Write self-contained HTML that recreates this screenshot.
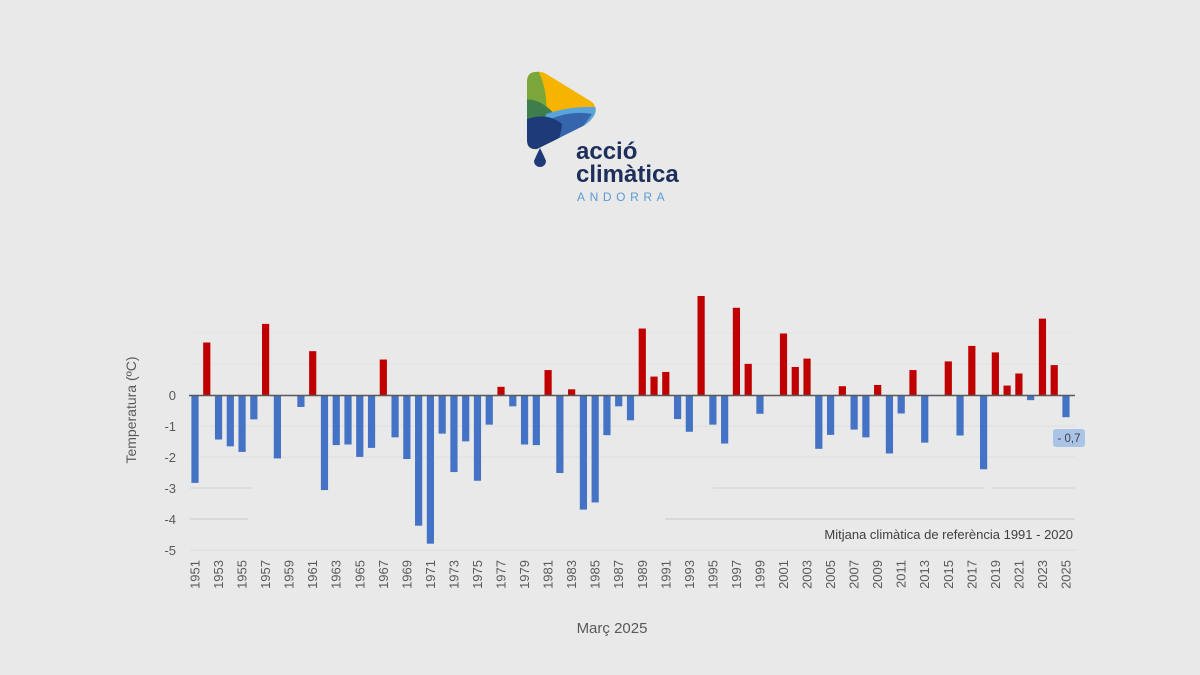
<!DOCTYPE html>
<html><head><meta charset="utf-8"><style>
html,body{margin:0;padding:0;background:#e9e9e9;}
svg{display:block;font-family:"Liberation Sans",sans-serif;}
</style></head><body>
<svg id="s" width="1200" height="675" viewBox="0 0 1200 675" xmlns="http://www.w3.org/2000/svg">
<defs>
<clipPath id="tri"><path d="M536,72 Q527,72 527,82 L527,140 Q527,150 537,149 L585,125 Q602,112 592,102 L548,75 Q542,71 536,72Z"/></clipPath>
</defs>
<rect width="1200" height="675" fill="#e9e9e9"/>
<g clip-path="url(#tri)">
<rect x="520" y="65" width="90" height="90" fill="#f6b400"/>
<path d="M520,65 L538,70 Q548,92 546,112 L520,122Z" fill="#7aa63a"/>
<path d="M520,100 Q540,96 556,116 L520,140Z" fill="#3e7d4c"/>
<path d="M546,114 Q575,104 610,108 L610,155 L540,155Z" fill="#5aa4dc"/>
<path d="M548,120 Q570,110 592,114 Q580,132 560,150 L548,150Z" fill="#3566ad"/>
<path d="M520,122 Q545,110 562,124 Q560,150 540,155 L520,155Z" fill="#1e3a78"/>
</g>
<path d="M540,148 Q536,156 534,161 A6,6 0 1 0 546,161 Q544,156 540,148Z" fill="#1e3a78"/>
<text x="576" y="159" font-size="24" font-weight="bold" fill="#1f2f5c">acció</text>
<text x="576" y="182" font-size="24" font-weight="bold" fill="#1f2f5c">climàtica</text>
<text x="577" y="201" font-size="12" fill="#5b9bd5" letter-spacing="4.6">ANDORRA</text>
<g id="grid" stroke="#d2d2d2" stroke-width="1">
<line x1="665" y1="519" x2="1075" y2="519" stroke="#c8c8c8"/>
<line x1="713" y1="488" x2="985" y2="488"/>
<line x1="992" y1="488" x2="1075" y2="488"/>
<line x1="190" y1="519" x2="248" y2="519" stroke="#c8c8c8"/>
<line x1="190" y1="488" x2="253" y2="488"/>
<line x1="190" y1="550" x2="1075" y2="550" stroke="#dcdcdc"/>
<line x1="190" y1="457" x2="1075" y2="457" stroke="#dedede"/>
<line x1="190" y1="426" x2="1075" y2="426" stroke="#e0e0e0"/>
<line x1="190" y1="364" x2="1075" y2="364" stroke="#e2e2e2"/>
<line x1="190" y1="333" x2="1075" y2="333" stroke="#e3e3e3"/>
</g>
<g id="bars"></g>
<line x1="189" y1="395.5" x2="1075" y2="395.5" stroke="#595959" stroke-width="1.5"/>
<g font-size="13" fill="#595959" text-anchor="end">
<text x="176" y="400">0</text>
<text x="176" y="431">-1</text>
<text x="176" y="462">-2</text>
<text x="176" y="493">-3</text>
<text x="176" y="524">-4</text>
<text x="176" y="555">-5</text>
</g>
<text transform="translate(136,410) rotate(-90)" text-anchor="middle" font-size="14" fill="#595959">Temperatura (ºC)</text>
<g id="years" font-size="13" fill="#595959"></g>
<text x="1073" y="539" text-anchor="end" font-size="13" fill="#404040">Mitjana climàtica de referència 1991 - 2020</text>
<rect x="1053" y="429" width="32" height="18" rx="3" fill="#a9c4e6"/>
<text x="1069" y="442" text-anchor="middle" font-size="11.5" fill="#404040">- 0,7</text>
<text x="612" y="633" text-anchor="middle" font-size="15" fill="#595959">Març 2025</text>
</svg>
<script>
var v=[-2.82,1.71,-1.42,-1.64,-1.82,-0.77,2.31,-2.03,0,-0.37,1.43,-3.05,-1.6,-1.58,-1.98,-1.69,1.16,-1.35,-2.05,-4.2,-4.78,-1.23,-2.47,-1.48,-2.75,-0.94,0.28,-0.35,-1.58,-1.6,0.82,-2.5,0.2,-3.68,-3.45,-1.28,-0.35,-0.8,2.16,0.61,0.76,-0.76,-1.17,3.21,-0.94,-1.55,2.83,1.02,-0.59,0,2.0,0.92,1.19,-1.72,-1.27,0.3,-1.1,-1.35,0.34,-1.87,-0.58,0.82,-1.52,0,1.1,-1.29,1.6,-2.38,1.39,0.32,0.71,-0.15,2.48,0.98,-0.7];
var ns="http://www.w3.org/2000/svg",b=document.getElementById("bars"),yg=document.getElementById("years");
for(var i=0;i<v.length;i++){var cx=195+i*11.77,h=Math.abs(v[i])*31;
if(h>0){var r=document.createElementNS(ns,"rect");r.setAttribute("x",cx-3.6);r.setAttribute("width",7.2);
r.setAttribute("y",v[i]>0?395.5-h:395.5);r.setAttribute("height",h);r.setAttribute("fill",v[i]>0?"#c00000":"#4472c4");b.appendChild(r);}
if(i%2==0){var t=document.createElementNS(ns,"text");t.setAttribute("transform","translate("+(cx+4.5)+",560) rotate(-90)");t.setAttribute("text-anchor","end");t.textContent=1951+i;yg.appendChild(t);}}
</script>
</body></html>
